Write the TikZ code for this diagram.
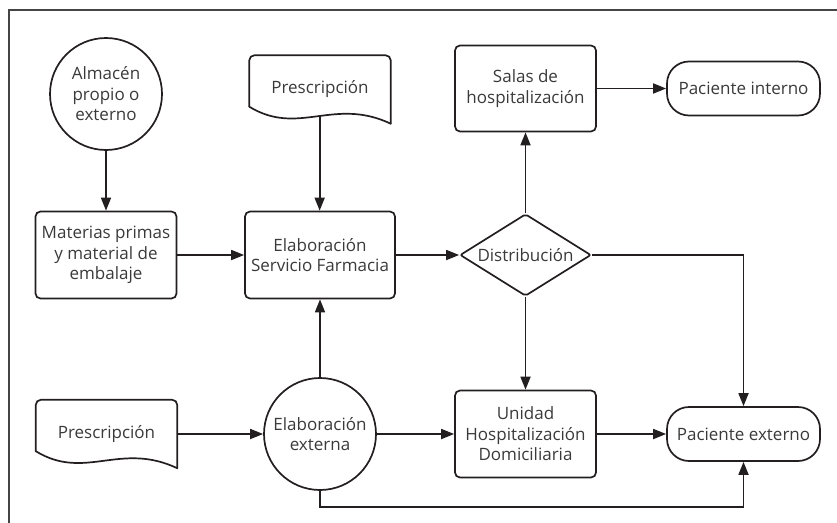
\documentclass[tikz,border=0pt]{standalone}
\usepackage{fontspec}
\setmainfont{Open Sans}
\usetikzlibrary{shapes.geometric,arrows.meta,calc}

\definecolor{ln}{HTML}{231F20}
\definecolor{txt}{HTML}{3A3A3A}
\definecolor{framec}{HTML}{454545}

% outline of a flowchart "document" symbol around a node, with a wavy bottom;
% the coordinate <name>-w sits on the wave under the node centre
\newcommand\docoutline[1]{%
  \draw[ln, line width=1.7pt, line cap=round, rounded corners=5pt]
    ($(#1.south west)+(0,-17)$) -- (#1.north west) -- (#1.north east) -- (#1.south east);
  \draw[ln, line width=1.7pt, line cap=round]
    (#1.south east) .. controls +(-57,-27) and +(49,30) .. ($(#1.south west)+(0,-17)$)
    coordinate[pos=0.48] (#1-w);
}

\begin{document}
\begin{tikzpicture}[x=1pt,y=-1pt,
  every node/.style={font=\fontsize{17}{20.5}\selectfont, text=txt, align=center},
  box/.style={draw=ln, line width=1.7pt, rounded corners=5pt, inner sep=0pt,
              minimum width=141pt, minimum height=87pt},
  pill/.style={draw=ln, line width=1.7pt, rounded corners=22pt, inner sep=0pt,
               minimum width=153pt, minimum height=54pt},
  circ/.style={draw=ln, line width=1.7pt, circle, inner sep=0pt, minimum size=112pt},
  decision/.style={draw=ln, line width=1.7pt, diamond, aspect=1.6, inner sep=0pt,
                   rounded corners=2pt, minimum width=131pt, minimum height=82pt},
  docnode/.style={inner sep=0pt, minimum width=141pt, minimum height=68pt},
  arr/.style={draw=ln, line width=1.7pt, -{Triangle[length=13pt,width=10pt]}}
]
\useasboundingbox (0,0) rectangle (837,522);

% partial frame round the chart
\draw[framec, line width=2.6pt] (9,524) -- (9,10) -- (840,10);

% nodes
\node[circ]     (alm)   at (106,94)     {Almacén\\propio o\\externo};
\node[box]      (mat)   at (106,255)    {Materias primas\\y material de\\embalaje};
\node[docnode]  (pre1)  at (320,89.5)   {Prescripción};
\node[box, minimum width=150pt] (esf) at (320,255) {Elaboración\\Servicio Farmacia};
\node[decision] (dist)  at (525.5,255)  {Distribución};
\node[box, minimum height=86pt] (salas) at (525.5,88.5) {Salas de\\hospitalización};
\node[pill]     (pint)  at (743.5,88.5) {Paciente interno};
\node[docnode]  (pre2)  at (106.5,434)  {Prescripción};
\node[circ]     (ext)   at (320,434)    {Elaboración\\externa};
\node[box]      (uhd)   at (525.5,434)  {Unidad\\Hospitalización\\Domiciliaria};
\node[pill]     (pext)  at (743.5,434)  {Paciente externo};

\docoutline{pre1}
\docoutline{pre2}

% connectors
\draw[arr] (alm) -- (mat);
\draw[arr] (pre1-w) -- (pre1-w |- esf.north);
\draw[arr] (mat) -- (esf);
\draw[arr] (esf) -- (dist);
\draw[arr] (dist) -- (salas);
\draw[arr] (salas) -- (pint);
\draw[arr] (dist.east) -| (pext.north);
\draw[arr] (dist) -- (uhd);
\draw[arr] (pre2) -- (ext);
\draw[arr] (ext) -- (esf);
\draw[arr] (ext) -- (uhd);
\draw[arr] (uhd) -- (pext);
\draw[arr] (ext.south) -- ++(0,16) -| (pext.south);
\end{tikzpicture}
\end{document}
